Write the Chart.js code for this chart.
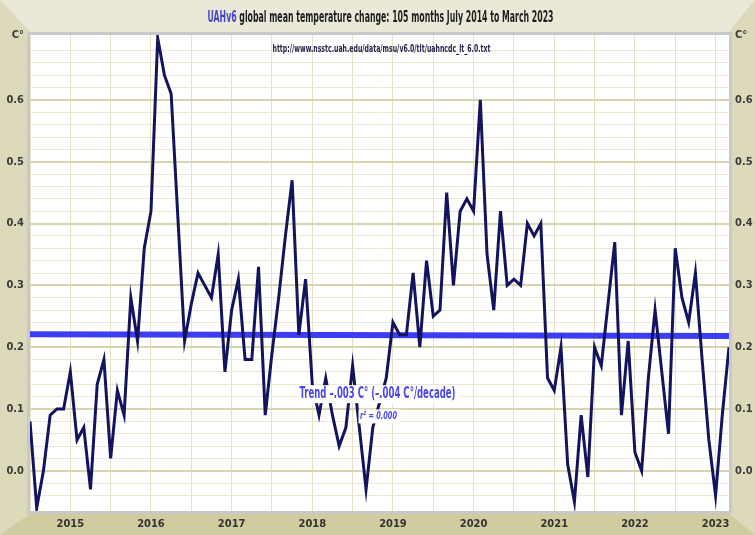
<!DOCTYPE html>
<html>
<head>
<meta charset="utf-8">
<title>UAHv6 global mean temperature change</title>
<script src="https://cdn.jsdelivr.net/npm/chart.js@4.4.1/dist/chart.umd.min.js"></script>
<style>
  html, body { margin: 0; padding: 0; background: #d6d4ad; }
  #wrap { width: 755px; height: 535px; }
</style>
</head>
<body>
<div id="wrap"><canvas id="uahChart" width="755" height="535"></canvas></div>
<script>
// monthly anomalies, July 2014 .. March 2023
const temps = [
  0.08, -0.06, 0.00, 0.09, 0.10, 0.10,                               // 2014 Jul-Dec
  0.16, 0.05, 0.07, -0.03, 0.14, 0.18, 0.02, 0.13, 0.09, 0.28, 0.21, 0.36, // 2015
  0.42, 0.70, 0.64, 0.61, 0.41, 0.21, 0.27, 0.32, 0.30, 0.28, 0.35, 0.16, // 2016
  0.26, 0.31, 0.18, 0.18, 0.33, 0.09, 0.19, 0.28, 0.38, 0.47, 0.22, 0.31, // 2017
  0.14, 0.09, 0.15, 0.09, 0.04, 0.07, 0.17, 0.07, -0.03, 0.07, 0.11, 0.15, // 2018
  0.24, 0.22, 0.22, 0.32, 0.20, 0.34, 0.25, 0.26, 0.45, 0.30, 0.42, 0.44, // 2019
  0.42, 0.60, 0.35, 0.26, 0.42, 0.30, 0.31, 0.30, 0.40, 0.38, 0.40, 0.15, // 2020
  0.13, 0.20, 0.01, -0.05, 0.09, -0.01, 0.20, 0.17, 0.27, 0.37, 0.09, 0.21, // 2021
  0.03, 0.00, 0.15, 0.26, 0.16, 0.06, 0.36, 0.28, 0.24, 0.32, 0.18, 0.05, // 2022
  -0.04, 0.09, 0.20                                                    // 2023 Jan-Mar
];

// linear trend, start and end value
const trendEnds = [0.221, 0.218];

const yearTicks = ["2015", "2016", "2017", "2018", "2019", "2020", "2021", "2022", "2023"];
const yTickLabels = ["0.0", "0.1", "0.2", "0.3", "0.4", "0.5", "0.6"];
const unitLabel = "C\u00B0";

// month categories "YYYY-MM" starting July 2014
const categories = temps.map((_, i) => {
  const m = 6 + i;
  return (2014 + Math.floor(m / 12)) + "-" + String(m % 12 + 1).padStart(2, "0");
});

const NARROW = "'Liberation Sans Narrow', 'DejaVu Sans Condensed', 'Liberation Sans', sans-serif";
const Y_MIN = -0.065, Y_MAX = 0.705;

function yTick(value) {
  if (value >= 0.695) return unitLabel;   // top of the axis carries the unit
  const h = Math.round(value * 100);
  if (h % 10 !== 0 || Math.abs(value * 100 - h) > 0.01) return "";
  const lbl = (h / 100).toFixed(1);
  return yTickLabels.includes(lbl) ? lbl : "";
}

// draw text squeezed/stretched to a given width
function drawParts(ctx, parts, cx, cy, width, font) {
  ctx.save();
  ctx.font = font;
  let total = 0;
  parts.forEach(p => total += ctx.measureText(p[0]).width);
  ctx.translate(cx - width / 2, cy);
  ctx.scale(width / total, 1);
  ctx.textAlign = "left";
  ctx.textBaseline = "middle";
  let x = 0;
  parts.forEach(p => {
    ctx.fillStyle = p[1];
    ctx.fillText(p[0], x, 0);
    x += ctx.measureText(p[0]).width;
  });
  ctx.restore();
}

const framePlugin = {
  id: "frame",
  beforeDraw(chart) {
    const { ctx, chartArea: a, width: W, height: H } = chart;
    ctx.save();
    // bevelled beige frame
    ctx.fillStyle = "#d7d5b0";
    ctx.fillRect(0, 0, W, H);
    ctx.fillStyle = "#eae9d9";
    ctx.beginPath();
    ctx.moveTo(0, 0); ctx.lineTo(W, 0); ctx.lineTo(a.right, a.top - 3); ctx.lineTo(a.left, a.top - 3);
    ctx.closePath(); ctx.fill();
    ctx.fillStyle = "#dcdabb";
    ctx.beginPath();
    ctx.moveTo(0, 0); ctx.lineTo(a.left, a.top - 3); ctx.lineTo(a.left, a.bottom + 3); ctx.lineTo(0, H);
    ctx.closePath(); ctx.fill();
    ctx.beginPath();
    ctx.moveTo(W, 0); ctx.lineTo(a.right, a.top - 3); ctx.lineTo(a.right, a.bottom + 3); ctx.lineTo(W, H);
    ctx.closePath(); ctx.fill();
    ctx.fillStyle = "#cfcc9f";
    ctx.beginPath();
    ctx.moveTo(0, H); ctx.lineTo(a.left, a.bottom + 3); ctx.lineTo(a.right, a.bottom + 3); ctx.lineTo(W, H);
    ctx.closePath(); ctx.fill();
    // plot area
    ctx.fillStyle = "#ffffff";
    ctx.fillRect(a.left, a.top, a.right - a.left, a.bottom - a.top);
    ctx.restore();
  },
  afterDatasetsDraw(chart) {
    const { ctx } = chart;
    const xs = chart.scales.x, ys = chart.scales.y;
    const cx = xs.getPixelForValue(52);
    const ty = ys.getPixelForValue(0.124);
    const ry = ys.getPixelForValue(0.088);
    ctx.save();
    ctx.fillStyle = "#ffffff";
    ctx.fillRect(cx - 81, ty - 9, 162, 18);
    ctx.fillRect(cx - 21, ry - 7, 42, 14);
    ctx.restore();
    drawParts(ctx, [["Trend \u2013.003 C\u00B0 (\u2013.004 C\u00B0/decade)", "#4848ee"]],
      cx - 2, ty, 156, "bold 15px " + NARROW);
    drawParts(ctx, [["r\u00B2 = 0.000", "#4848ee"]],
      cx - 1, ry, 37, "italic bold 11px " + NARROW);
  },
  afterDraw(chart) {
    const { ctx, chartArea: a } = chart;
    ctx.save();
    ctx.strokeStyle = "#c9c9c9";
    ctx.lineWidth = 3;
    ctx.strokeRect(a.left - 1.5, a.top - 1.5, a.right - a.left + 3, a.bottom - a.top + 3);
    ctx.restore();
    const mid = (a.left + a.right) / 2;
    drawParts(ctx, [
      ["UAHv6", "#4444cc"],
      [" global mean temperature change: 105 months July 2014 to March 2023", "#1e1e1e"]
    ], mid + 1, 18, 346, "bold 15px " + NARROW);
    drawParts(ctx, [["http://www.nsstc.uah.edu/data/msu/v6.0/tlt/uahncdc_lt_6.0.txt", "#26264a"]],
      mid + 2, 49, 218, "bold 10px " + NARROW);
  }
};

const ctx = document.getElementById("uahChart").getContext("2d");

const uahChart = new Chart(ctx, {
  type: "line",
  data: {
    labels: categories,
    datasets: [
      {
        label: "UAHv6 TLT",
        data: temps,
        borderColor: "#13135e",
        borderWidth: 3,
        pointRadius: 0,
        tension: 0,
        fill: false
      },
      {
        label: "Trend",
        data: [
          { x: categories[0], y: trendEnds[0] },
          { x: categories[categories.length - 1], y: trendEnds[1] }
        ],
        borderColor: "#3d3df4",
        borderWidth: 6,
        pointRadius: 0,
        tension: 0,
        fill: false
      }
    ]
  },
  options: {
    responsive: false,
    animation: false,
    layout: { padding: { top: 35, left: 0, right: 0, bottom: 0 } },
    plugins: {
      legend: { display: false },
      title: { display: false },
      tooltip: { enabled: false }
    },
    scales: {
      x: {
        type: "category",
        offset: false,
        afterFit: s => { s.height = 24; },
        border: { display: false },
        grid: {
          drawTicks: false,
          lineWidth: 1,
          color: c => {
            const lbl = categories[c.index] || "";
            return (lbl.endsWith("-01") || lbl.endsWith("-07")) ? "#e3e1c6" : "rgba(0,0,0,0)";
          }
        },
        ticks: {
          autoSkip: false,
          maxRotation: 0,
          minRotation: 0,
          padding: 7,
          color: "#333333",
          font: { family: NARROW, size: 11, weight: "bold" },
          callback: (v, i) => {
            const lbl = categories[i];
            const yr = lbl.slice(0, 4);
            return lbl.endsWith("-01") && yearTicks.includes(yr) ? yr : "";
          }
        }
      },
      y: {
        type: "linear",
        position: "left",
        min: Y_MIN,
        max: Y_MAX,
        afterFit: s => { s.width = 30; },
        border: { display: false },
        grid: {
          drawTicks: false,
          color: c => {
            const h = Math.round(c.tick.value * 100);
            if (Math.abs(c.tick.value * 100 - h) > 0.01) return "rgba(0,0,0,0)";
            return h % 10 === 0 ? "#d9d6ad" : "#ebe9d4";
          },
          lineWidth: c => (Math.round(c.tick.value * 100) % 10 === 0 ? 2 : 1)
        },
        ticks: {
          stepSize: 0.02,
          autoSkip: false,
          padding: 6,
          color: "#3a3a3a",
          font: { family: NARROW, size: 11, weight: "bold" },
          callback: v => yTick(v)
        }
      },
      y2: {
        type: "linear",
        position: "right",
        min: Y_MIN,
        max: Y_MAX,
        afterFit: s => { s.width = 26; },
        border: { display: false },
        grid: { display: false, drawTicks: false },
        ticks: {
          stepSize: 0.02,
          autoSkip: false,
          padding: 6,
          color: "#3a3a3a",
          font: { family: NARROW, size: 11, weight: "bold" },
          callback: v => yTick(v)
        }
      }
    }
  },
  plugins: [framePlugin]
});
</script>
</body>
</html>
